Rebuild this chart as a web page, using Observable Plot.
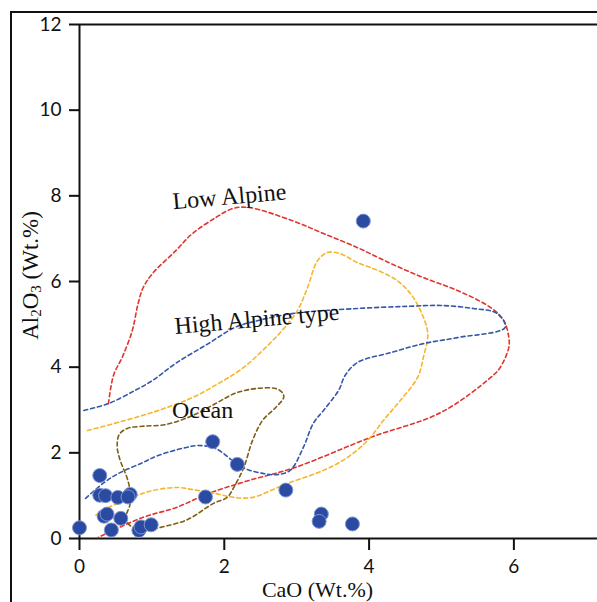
<!DOCTYPE html>
<html>
<head>
<meta charset="utf-8">
<script src="https://cdn.jsdelivr.net/npm/d3@7"></script>
<script src="https://cdn.jsdelivr.net/npm/@observablehq/plot@0.6"></script>
<style>
  html, body { margin: 0; padding: 0; background: #fff; overflow: hidden; }
  #wrap { position: relative; width: 597px; height: 602px; }
  #border { position: absolute; left: 10px; top: 11px; width: 800px; height: 800px;
            border-left: 2px solid #111; border-top: 2px solid #111; pointer-events: none; }
  #chart { position: absolute; left: 0; top: 0; }
</style>
</head>
<body>
<div id="wrap"><div id="chart"></div><div id="border"></div></div>
<script>
// Sample points: CaO vs Al2O3 (wt.%)
const cao   = [0.00, 0.28, 0.28, 0.36, 0.53, 0.70, 0.67, 0.34, 0.38, 0.57, 0.44, 0.82, 0.85, 0.99, 1.84, 2.18, 1.74, 2.85, 3.34, 3.31, 3.77, 3.92];
const al2o3 = [0.25, 1.47, 1.01, 1.00, 0.96, 1.03, 0.97, 0.52, 0.57, 0.47, 0.20, 0.19, 0.27, 0.32, 2.26, 1.73, 0.97, 1.13, 0.57, 0.40, 0.34, 7.41];

// Field boundaries [CaO, Al2O3]
const lowAlpine = [[0.40,3.15],[0.47,3.81],[0.59,4.23],[0.73,4.86],[0.81,5.49],[0.88,5.86],[1.01,6.19],[1.33,6.72],[1.56,7.12],[1.88,7.49],[2.11,7.70],[2.33,7.73],[2.94,7.42],[3.37,7.12],[3.84,6.79],[4.30,6.42],[4.75,6.09],[5.22,5.79],[5.68,5.39],[5.86,5.09],[5.93,4.69],[5.93,4.46],[5.81,3.99],[5.68,3.76],[4.99,2.94],[4.02,2.36],[2.98,1.66],[2.33,1.35],[1.78,1.05],[1.33,0.72],[0.87,0.49],[0.25,0.02]];
const highAlpine = [[0.06,2.99],[0.40,3.15],[0.77,3.46],[1.01,3.69],[1.33,4.09],[1.78,4.55],[2.15,4.93],[2.47,5.09],[2.94,5.25],[3.84,5.37],[4.53,5.42],[4.99,5.44],[5.44,5.37],[5.77,5.25],[5.88,4.93],[5.22,4.69],[4.75,4.55],[4.30,4.34],[3.84,4.11],[3.67,3.81],[3.58,3.46],[3.37,2.99],[3.23,2.69],[3.09,2.12],[2.91,1.59],[2.71,1.49],[2.53,1.52],[2.25,1.66],[1.88,2.10],[1.64,2.17],[1.46,2.12],[1.09,1.94],[0.87,1.77],[0.54,1.52],[0.32,1.28],[0.08,0.93]];
const orangeField = [[0.11,2.52],[0.64,2.76],[1.09,2.99],[1.56,3.29],[1.92,3.62],[2.25,3.97],[2.53,4.39],[2.80,4.86],[3.01,5.32],[3.15,5.86],[3.29,6.49],[3.43,6.68],[3.60,6.65],[3.84,6.44],[4.12,6.26],[4.39,6.02],[4.57,5.72],[4.71,5.32],[4.81,4.79],[4.75,4.23],[4.67,3.76],[4.43,3.22],[4.20,2.76],[3.98,2.29],[3.70,1.89],[3.37,1.59],[2.91,1.31],[2.71,1.17],[2.39,0.96],[2.13,0.96],[1.88,1.05],[1.57,1.14],[1.35,1.19],[1.01,1.12],[0.73,0.96],[0.40,0.72],[0.22,0.54]];
const ocean = [[2.82,3.29],[2.80,3.41],[2.71,3.50],[2.43,3.50],[2.15,3.39],[1.88,3.15],[1.56,2.87],[1.19,2.66],[0.87,2.62],[0.66,2.57],[0.55,2.43],[0.52,2.17],[0.55,1.89],[0.68,1.28],[0.70,0.82],[0.64,0.47],[0.73,0.26],[0.94,0.19],[1.12,0.26],[1.49,0.44],[1.85,0.82],[2.04,0.96],[2.13,1.19],[2.27,1.66],[2.39,2.29],[2.53,2.76],[2.71,3.06]];

// Field labels
const fieldLabels = [
  {text: "Low Alpine",       x: 2.07, y: 7.98, rotate: -5},
  {text: "High Alpine type", x: 2.45, y: 5.12, rotate: -5},
  {text: "Ocean",            x: 1.70, y: 3.00, rotate: 0}
];

const xTicks = [0, 2, 4, 6];
const yTicks = [0, 2, 4, 6, 8, 10, 12];
const xLabel = "CaO (Wt.%)";
const yLabel = "Al2O3 (Wt.%)";

const points = cao.map((c, i) => ({cao: c, al2o3: al2o3[i]}));
const dash = {strokeDasharray: "4,3", strokeWidth: 1.6, curve: "catmull-rom"};
const serif = "Liberation Serif, Times New Roman, serif";

const chart = Plot.plot({
  width: 597,
  height: 602,
  marginLeft: 79,
  marginRight: 0,
  marginTop: 24,
  marginBottom: 64,
  x: {domain: [0, 7.155]},
  y: {domain: [0, 12]},
  style: {fontFamily: "Lato, sans-serif", fontSize: "19px", color: "#111", background: "transparent"},
  marks: [
    Plot.axisY({ticks: yTicks, tickSize: 10, tickPadding: 8, tickFormat: d => d, label: null, strokeWidth: 2, fontSize: 19}),
    Plot.axisX({ticks: xTicks, tickSize: 12, tickPadding: 9, tickFormat: d => d, label: null, strokeWidth: 2, fontSize: 19}),
    Plot.ruleX([0], {stroke: "#111", strokeWidth: 2}),
    Plot.ruleY([0], {stroke: "#111", strokeWidth: 2}),
    Plot.ruleY([12], {stroke: "#111", strokeWidth: 2}),
    Plot.line(lowAlpine, {x: d => d[0], y: d => d[1], stroke: "#e0352e", ...dash}),
    Plot.line(orangeField, {x: d => d[0], y: d => d[1], stroke: "#f7b52a", ...dash}),
    Plot.line(highAlpine, {x: d => d[0], y: d => d[1], stroke: "#3557a8", ...dash}),
    Plot.line(ocean, {x: d => d[0], y: d => d[1], stroke: "#7d5f14", ...dash, curve: "catmull-rom-closed"}),
    Plot.text(fieldLabels, {x: "x", y: "y", text: "text", rotate: "rotate", fontFamily: serif, fontSize: 24, fill: "#111"}),
    Plot.dot(points, {x: "cao", y: "al2o3", r: 7, fill: "#2b4ba2", stroke: "#7f95cf", strokeWidth: 1}),
    Plot.text([xLabel], {frameAnchor: "bottom", textAnchor: "middle", lineAnchor: "middle", dx: -21, dy: 51, fontFamily: serif, fontSize: 22, fill: "#111"}),
    Plot.text([yLabel], {frameAnchor: "left", textAnchor: "middle", lineAnchor: "middle", rotate: -90, dx: -49, dy: -6, fontFamily: serif, fontSize: 23, fill: "#111", className: "ylab"})
  ]
});
document.getElementById("chart").appendChild(chart);

// Render the digits in Al2O3 as subscripts (text stays real text)
d3.select(chart).selectAll(".ylab text").each(function() {
  const t = d3.select(this);
  t.text(null);
  const parts = [["Al", false], ["2", true], ["O", false], ["3", true], [" (Wt.%)", false]];
  for (const [s, sub] of parts) {
    const sp = t.append("tspan").text(s);
    if (sub) sp.attr("font-size", 15).attr("baseline-shift", "-3");
  }
});
</script>
</body>
</html>
